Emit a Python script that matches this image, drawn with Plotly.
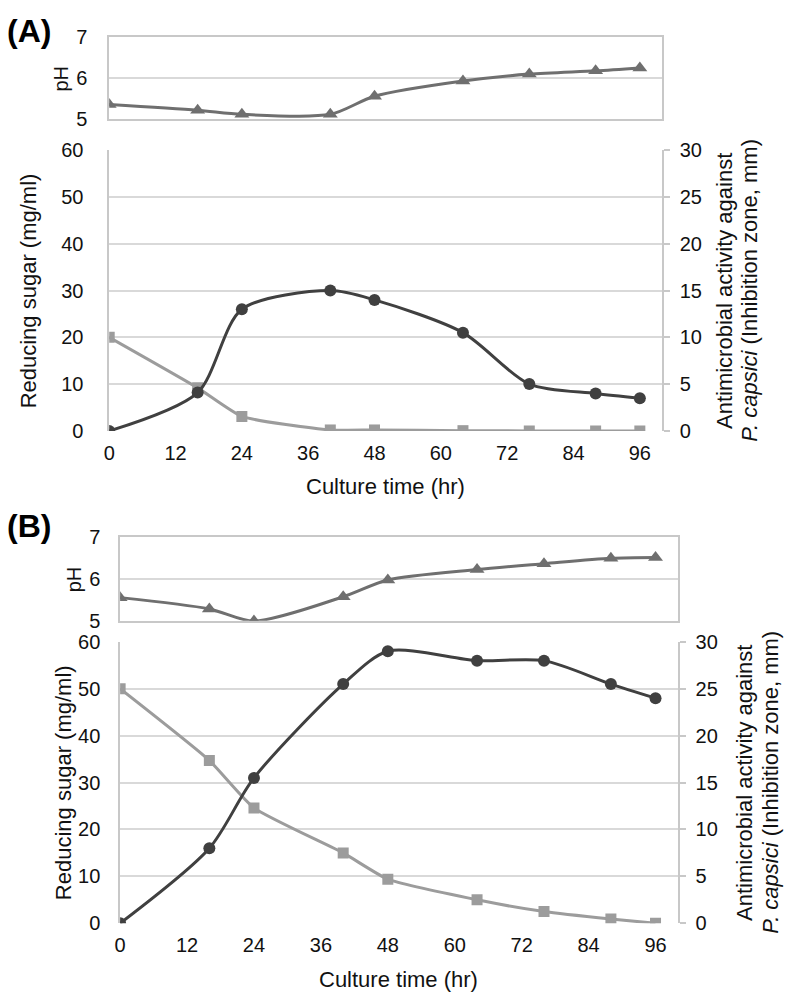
import plotly.graph_objects as go

# ---------------- data ----------------
time_hr = [0, 16, 24, 40, 48, 64, 76, 88, 96]

ph_a = [5.36, 5.22, 5.12, 5.12, 5.56, 5.93, 6.10, 6.18, 6.25]
sugar_a = [20, 9.2, 3.1, 0.2, 0.2, 0.05, 0, 0, 0]
activity_a = [0, 4.1, 13, 15, 14, 10.5, 5, 4, 3.5]

ph_b = [5.55, 5.28, 4.99, 5.57, 5.97, 6.22, 6.36, 6.49, 6.51]
sugar_b = [50, 34.7, 24.6, 15, 9.4, 5.0, 2.5, 0.9, 0]
activity_b = [0, 8, 15.5, 25.5, 29, 28, 28, 25.5, 24]

x_ticks = [0, 12, 24, 36, 48, 60, 72, 84, 96]

# ---------------- style ----------------
W, H = 786, 1005
FONT = "Arial, Liberation Sans, sans-serif"
C_ACT = "#404040"
C_SUG = "#9c9c9c"
C_PH = "#6f6f6f"
GRID = "#d9d9d9"
LINE = "#c8c8c8"
TXT = "#111111"


def px(xp):
    return xp / W


def py(yp):
    return 1 - yp / H


fig = go.Figure()

panels = [
    dict(ph=ph_a, sug=sugar_a, act=activity_a, xl=104, xr=661,
         ph_top=26.7, ph_bot=110.7, m_top=142.3, m_bot=429.3,
         xs=["x", "x2"], ys=["y", "y2", "y3"]),
    dict(ph=ph_b, sug=sugar_b, act=activity_b, xl=115, xr=677,
         ph_top=537.7, ph_bot=623.3, m_top=645, m_bot=932.7,
         xs=["x3", "x4"], ys=["y4", "y5", "y6"]),
]

for p in panels:
    fig.add_trace(go.Scatter(
        x=time_hr, y=p["ph"], xaxis=p["xs"][0], yaxis=p["ys"][0],
        mode="lines+markers", line=dict(color=C_PH, width=3, shape="spline", smoothing=0.8),
        marker=dict(symbol="triangle-up", size=13, color=C_PH), showlegend=False))
    fig.add_trace(go.Scatter(
        x=time_hr, y=p["sug"], xaxis=p["xs"][1], yaxis=p["ys"][1],
        mode="lines+markers", line=dict(color=C_SUG, width=3, shape="spline", smoothing=0.5),
        marker=dict(symbol="square", size=11, color=C_SUG), showlegend=False))
    fig.add_trace(go.Scatter(
        x=time_hr, y=p["act"], xaxis=p["xs"][1], yaxis=p["ys"][2],
        mode="lines+markers", line=dict(color=C_ACT, width=3, shape="spline", smoothing=0.8),
        marker=dict(symbol="circle", size=12, color=C_ACT), showlegend=False))

tickfont = dict(family=FONT, size=20, color=TXT)
layout = dict(
    width=W, height=H, margin=dict(l=0, r=0, t=0, b=0),
    paper_bgcolor="white", plot_bgcolor="white",
    font=dict(family=FONT, color=TXT),
)


def ax_key(name, kind):
    return kind + "axis" + name[1:]


for i, p in enumerate(panels):
    xd = [px(p["xl"]), px(p["xr"])]
    xph, xmain = p["xs"]
    yph, yl, yr = p["ys"]
    # pH panel
    layout[ax_key(xph, "x")] = dict(domain=xd, anchor=yph, range=[0, 100], showticklabels=False,
                                     showgrid=False, zeroline=False, showline=True, mirror=True,
                                     linecolor=LINE, linewidth=1.5, ticks="")
    layout[ax_key(yph, "y")] = dict(domain=[py(p["ph_bot"]), py(p["ph_top"])], anchor=xph,
                                     range=[5, 7], tickvals=[5, 6, 7], showgrid=True, gridcolor=GRID,
                                     gridwidth=1.5, zeroline=False, showline=True, mirror=True,
                                     linecolor=LINE, linewidth=1.5, ticks="", tickfont=tickfont,
                                     ticklabelstandoff=16 if i == 0 else 14)
    # main panel
    layout[ax_key(xmain, "x")] = dict(domain=xd, anchor=yl, range=[0, 100], tickvals=x_ticks,
                                       showgrid=False, zeroline=False, showline=False, ticks="",
                                       tickfont=tickfont, ticklabelstandoff=8)
    layout[ax_key(yl, "y")] = dict(domain=[py(p["m_bot"]), py(p["m_top"])], anchor=xmain,
                                    range=[0, 60], dtick=10, showgrid=True, gridcolor=GRID, gridwidth=1.5,
                                    zeroline=False, showline=True, linecolor=LINE, linewidth=1.5,
                                    ticks="", tickfont=tickfont,
                                    ticklabelstandoff=20 if i == 0 else 14)
    layout[ax_key(yr, "y")] = dict(overlaying=yl, side="right", anchor=xmain, range=[0, 30], dtick=5,
                                    showgrid=False, zeroline=False, showline=True, linecolor=LINE,
                                    linewidth=1.5, ticks="outside", ticklen=6, tickcolor=LINE,
                                    tickwidth=1.5, tickfont=tickfont, ticklabelstandoff=6)

fig.update_layout(**layout)

title_font = dict(family=FONT, size=22, color=TXT)
ann = []
labels = [("(A)", 20), ("(B)", 527)]
for t, yy in labels:
    ann.append(dict(text="<b>%s</b>" % t, x=px(-1), y=py(yy), xref="paper", yref="paper",
                    xanchor="left", yanchor="middle", showarrow=False,
                    font=dict(family=FONT, size=32, color="#000000")))

title_pos = [
    dict(ph_x=55, ph_y=69.5, rs_x=23, r1=724, r2=749, ct_y=486),
    dict(ph_x=68, ph_y=580.5, rs_x=58, r1=744, r2=770, ct_y=990),
]
for p, tp in zip(panels, title_pos):
    mid = (p["m_top"] + p["m_bot"]) / 2
    ann.append(dict(text="pH", x=px(tp["ph_x"]), y=py(tp["ph_y"]), xref="paper", yref="paper",
                    textangle=-90, showarrow=False, font=dict(family=FONT, size=20, color=TXT),
                    xanchor="center", yanchor="middle"))
    ann.append(dict(text="Reducing sugar (mg/ml)", x=px(tp["rs_x"]), y=py(mid), xref="paper",
                    yref="paper", textangle=-90, showarrow=False, font=title_font,
                    xanchor="center", yanchor="middle"))
    ann.append(dict(text="Antimicrobial activity against",
                    x=px(tp["r1"]), y=py(mid), xref="paper", yref="paper", textangle=-90,
                    showarrow=False, font=title_font, xanchor="center", yanchor="middle"))
    ann.append(dict(text="<i>P. capsici</i> (Inhibition zone, mm)",
                    x=px(tp["r2"]), y=py(mid), xref="paper", yref="paper", textangle=-90,
                    showarrow=False, font=title_font, xanchor="center", yanchor="middle"))
    ann.append(dict(text="Culture time (hr)", x=px((p["xl"] + p["xr"]) / 2), y=py(tp["ct_y"]),
                    xref="paper", yref="paper", showarrow=False, font=title_font,
                    xanchor="center", yanchor="middle"))

fig.update_layout(annotations=ann)
fig.write_html("out.html", config={"displayModeBar": False},
               post_script="document.body.style.margin='0px';document.body.style.overflow='hidden';")
